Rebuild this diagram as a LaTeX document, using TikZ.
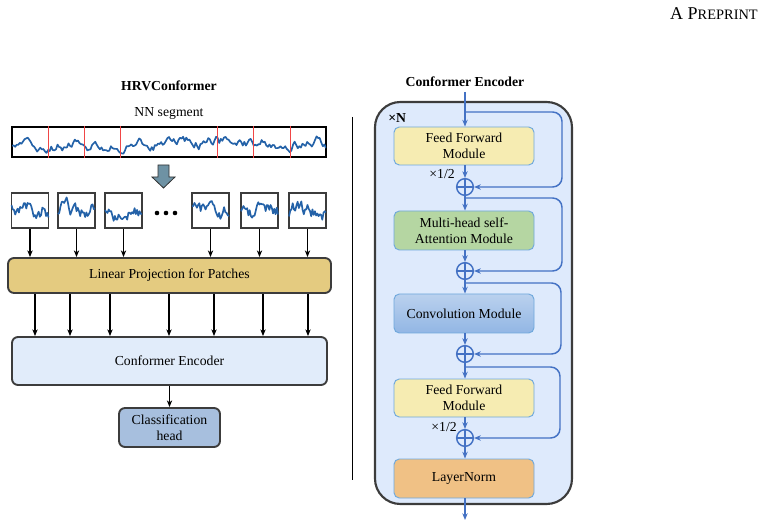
\documentclass[tikz,border=0pt]{standalone}
\usepackage{fontspec}
\setmainfont{Liberation Serif}
\usetikzlibrary{arrows.meta,calc}
\definecolor{cblue}{RGB}{68,114,196}
\definecolor{wavec}{RGB}{36,98,168}
\definecolor{edgec}{RGB}{60,60,60}
\definecolor{lpfill}{RGB}{228,203,128}
\definecolor{cefill}{RGB}{225,236,250}
\definecolor{chfill}{RGB}{167,191,222}
\definecolor{encfill}{RGB}{222,234,252}
\definecolor{fffill}{RGB}{246,236,178}
\definecolor{mhfill}{RGB}{181,214,162}
\definecolor{cvtop}{RGB}{186,209,238}
\definecolor{cvbot}{RGB}{146,182,228}
\definecolor{lnfill}{RGB}{240,193,133}
\definecolor{modedge}{RGB}{111,168,220}
\definecolor{bigarrow}{RGB}{110,146,164}
\definecolor{redl}{RGB}{240,70,70}
\newcommand{\arwave}[7]{% seed, x0, x1, ymid, amp, n, coef
  \pgfmathsetseed{#1}\xdef\wy{0}\xdef\wpts{}%
  \pgfmathsetmacro\wstep{(#3-#2)/#6}%
  \foreach \k in {0,...,#6}{%
    \pgfmathsetmacro\wx{#2+\k*\wstep}%
    \pgfmathsetmacro\ny{#7*\wy+#5*rand}%
    \xdef\wy{\ny}%
    \pgfmathsetmacro\py{#4+\ny}%
    \xdef\wpts{\wpts (\wx,\py)}%
  }%
  \edef\wtmp{\noexpand\draw[wavestyle] plot coordinates {\wpts};}\wtmp}
\begin{document}
\begin{tikzpicture}[x=0.75pt,y=-0.75pt,
  font=\fontsize{10.3}{11.8}\selectfont,
  wavestyle/.style={draw=wavec, line width=1.25pt, line join=round},
  patchbox/.style={draw=edgec, line width=0.8pt, minimum width=27.75pt, minimum height=26.25pt, inner sep=0pt},
  blockbox/.style={draw=edgec, line width=1.4pt, rounded corners=4.5pt, align=center, inner sep=0pt},
  modbox/.style={draw=modedge, line width=0.7pt, rounded corners=4pt, align=center, inner sep=0pt, minimum width=105pt},
  blk/.style={-{Stealth[length=5pt,width=4pt,inset=1.5pt]}, line width=0.8pt, black},
  blu/.style={-{Stealth[length=5pt,width=4pt,inset=1.5pt]}, line width=1.1pt, cblue},
  res/.style={blu, rounded corners=7pt},
  plusnode/.style={circle, draw=cblue, line width=1.1pt, minimum size=12.5pt, inner sep=0pt,
    path picture={\draw[cblue, line width=1.1pt] (path picture bounding box.north) -- (path picture bounding box.south)
      (path picture bounding box.west) -- (path picture bounding box.east);}}
]
\useasboundingbox (0,0) rectangle (764,527);

% header
\node[anchor=east, inner sep=0pt] (hdr) at (758,14) {\fontsize{13.5}{14}\selectfont A P\fontsize{10.8}{14}\selectfont REPRINT};

% ---------- left ----------
\node[font=\fontsize{10.3}{11.8}\selectfont\bfseries] (t1) at (169,86) {HRVConformer};
\node (nnl) at (169,113) {NN segment};

\node[draw=black, line width=1.3pt, minimum width=235.5pt, minimum height=22.5pt, inner sep=0pt] (seg) at (169,142) {};
\begin{scope}
\clip (12,127) rectangle (326,157);
\arwave{11}{12}{326}{143}{4.2}{200}{0.82}
\end{scope}
\foreach \xx in {48,84,120,217,253,290}
  \draw[redl, line width=0.7pt] (seg.north -| \xx,0) -- (seg.south -| \xx,0);

% big arrow
\draw[draw=edgec!80!black, line width=0.6pt, fill=bigarrow, line join=miter]
  (158,165) -- (169,165) -- (169,177) -- (175,177) -- (163.5,188) -- (152,177) -- (158,177) -- cycle;

% patches
\foreach \i/\cx/\sd in {1/30/3,2/76.5/5,3/123.5/7,4/210.5/9,5/259.5/13,6/307.5/17}{
  \node[patchbox] (p\i) at (\cx,210.5) {};
  \begin{scope}
  \clip (p\i.south west) rectangle (p\i.north east);
  \pgfmathsetmacro{\xa}{\cx-18.5}\pgfmathsetmacro{\xb}{\cx+18.5}
  \arwave{\sd}{\xa}{\xb}{211}{6.5}{30}{0.72}
  \end{scope}
}
\foreach \dd in {157,166,175}
  \fill (\dd,213) circle (2.3);
\node[inner sep=0pt] (dots) at (166,213) {};

\node[blockbox, fill=lpfill, minimum width=242.25pt, minimum height=26.25pt] (lp) at (169.5,275.5) {Linear Projection for Patches};
\foreach \i in {1,...,6}
  \draw[blk] (p\i.south) -- (lp.north -| p\i.south);

\node[blockbox, fill=cefill, minimum width=236.25pt, minimum height=36pt] (ce) at (169.5,361) {Conformer Encoder};
\foreach \xx in {35,70,110,169,214,263,308}
  \draw[blk] (lp.south -| \xx,0) -- (ce.north -| \xx,0);

\node[blockbox, fill=chfill, minimum width=75.75pt, minimum height=29.25pt, font=\fontsize{10.3}{12.3}\selectfont] (ch) at (169.5,427.5) {Classification\\head};
\draw[blk] (ce.south -| ch.north) -- (ch.north);

% separator
\coordinate (s1) at (352,117);
\coordinate (s2) at (352,480);
\draw[line width=0.7pt] (s1) -- (s2);

% ---------- right ----------
\node[font=\fontsize{10.3}{11.8}\selectfont\bfseries] (t2) at (465,82) {Conformer Encoder};
\draw[draw=edgec, line width=1.6pt, fill=encfill, rounded corners=19pt] (375,102) rectangle (572,504);
\node[font=\fontsize{10.3}{11.8}\selectfont\bfseries, anchor=west, inner sep=0pt] (xn) at (388,118) {×N};

\node[modbox, fill=fffill, minimum height=28.5pt] (ff1) at (464,146) {Feed Forward\\Module};
\node[modbox, fill=mhfill, minimum height=29.25pt] (mh) at (464,230.5) {Multi-head self-\\Attention Module};
\node[modbox, top color=cvtop, bottom color=cvbot, minimum height=29.25pt] (cv) at (464,313.5) {Convolution Module};
\node[modbox, fill=fffill, minimum height=28.5pt] (ff2) at (464,398) {Feed Forward\\Module};
\node[modbox, fill=lnfill, minimum height=29.25pt] (ln) at (464,478.5) {LayerNorm};

\node[plusnode] (a1) at (465,187) {};
\node[plusnode] (a2) at (465,271) {};
\node[plusnode] (a3) at (465,354) {};
\node[plusnode] (a4) at (465,438) {};

\node[anchor=east, inner sep=0pt] (h1) at (455,174) {×1/2};
\node[anchor=east, inner sep=0pt] (h2) at (457,427) {×1/2};

\coordinate (in) at (465,92);
\coordinate (out) at (465,520);
\coordinate (r1) at (465,112);
\coordinate (r2) at (465,198);
\coordinate (r3) at (465,283);
\coordinate (r4) at (465,367);

\draw[blu] (in) -- (ff1.north -| in);
\draw[blu] (ff1.south -| a1) -- (a1.north);
\draw[blu] (a1.south) -- (mh.north -| a1);
\draw[blu] (mh.south -| a2) -- (a2.north);
\draw[blu] (a2.south) -- (cv.north -| a2);
\draw[blu] (cv.south -| a3) -- (a3.north);
\draw[blu] (a3.south) -- (ff2.north -| a3);
\draw[blu] (ff2.south -| a4) -- (a4.north);
\draw[blu] (a4.south) -- (ln.north -| a4);
\draw[blu] (ln.south -| out) -- (out);

\draw[res] (r1) -- (562,112) -- (562,187) -- (a1.east);
\draw[res] (r2) -- (562,198) -- (562,271) -- (a2.east);
\draw[res] (r3) -- (561,283) -- (561,354) -- (a3.east);
\draw[res] (r4) -- (560,367) -- (560,438) -- (a4.east);
\end{tikzpicture}
\end{document}
